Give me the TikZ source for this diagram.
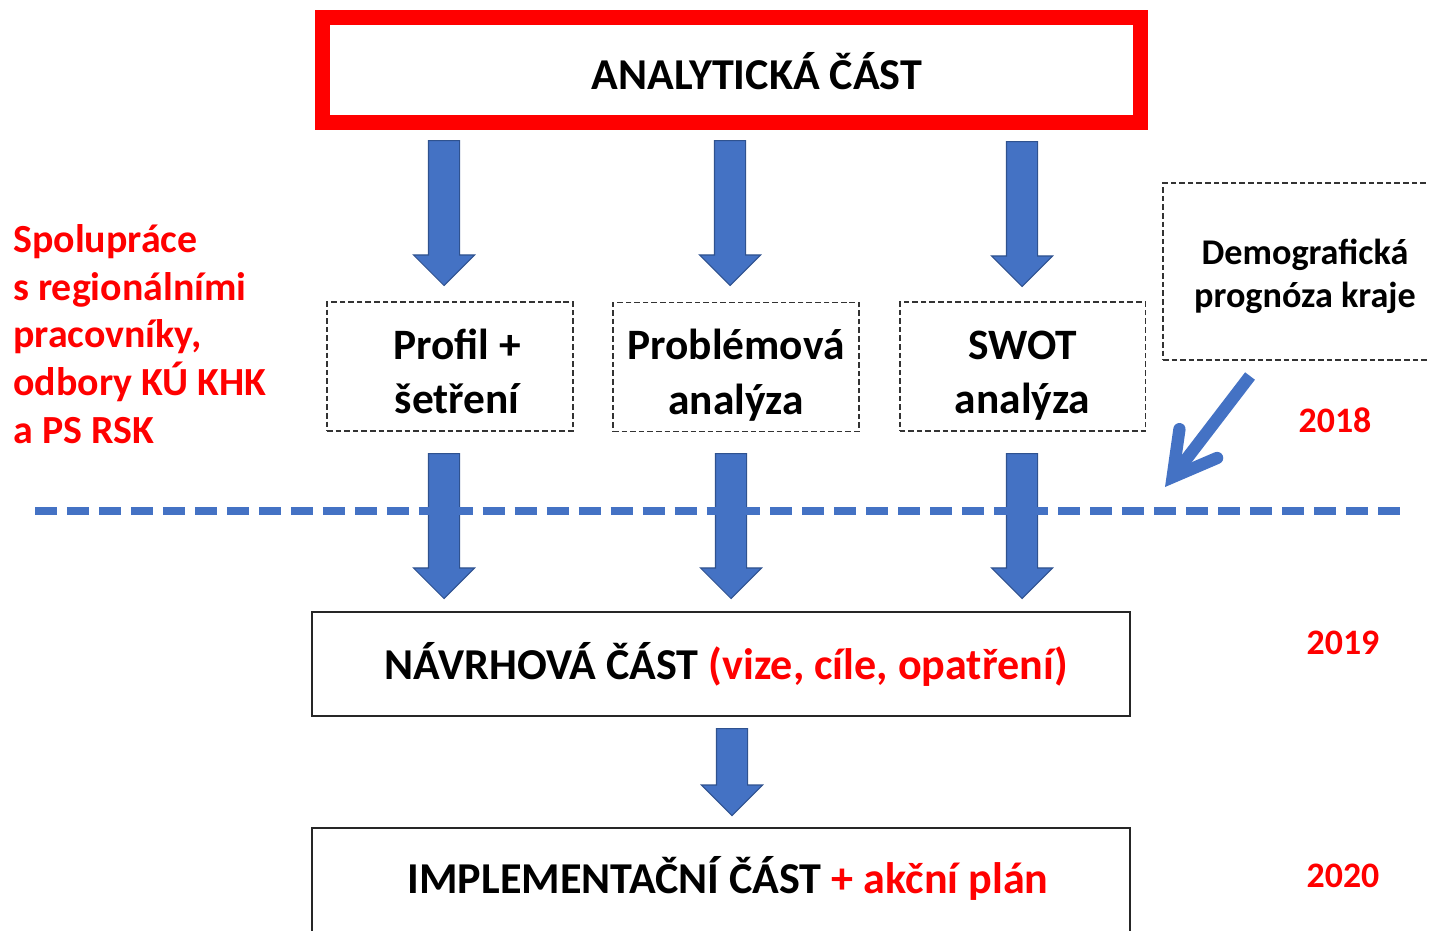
\documentclass[tikz,border=0pt]{standalone}
\usepackage{fontspec}
\setmainfont{Carlito}
\usetikzlibrary{arrows.meta,shapes.arrows}
\definecolor{arrowblue}{HTML}{4472C4}
\definecolor{arrowedge}{HTML}{2F528F}
\newcommand{\topline}[1]{\rule{0pt}{#1}}
\tikzset{
  redbox/.style = {draw=red, line width=0.3cm, inner sep=0pt,
    minimum width=16.36cm, minimum height=2.1cm},% analyticka cast
  plainbox/.style = {draw=black!85, line width=1.3pt, inner sep=0pt,
    minimum width=16.36cm, font=\bfseries\fontsize{25.1}{29}\selectfont},
  dashbox/.style = {draw=black!80, line width=1.1pt, dash pattern=on 3.2pt off 1.7pt,
    align=center, inner sep=0pt, minimum width=4.92cm, minimum height=2.58cm,
    font=\bfseries\fontsize{24.7}{31}\selectfont},
  demobox/.style = {dashbox, minimum width=5.68cm, minimum height=3.54cm,
    font=\bfseries\fontsize{20.6}{24.4}\selectfont},
  maintext/.style = {inner sep=0pt, font=\bfseries\fontsize{25.1}{29}\selectfont},
  redtext/.style = {text=red, align=left, inner sep=0pt,
    font=\bfseries\fontsize{22.7}{27.2}\selectfont},
  yeartext/.style = {text=red, inner sep=0pt,
    font=\bfseries\fontsize{20.4}{24}\selectfont},
  barrow/.style = {single arrow, fill=arrowblue, draw=arrowedge, line width=0.6pt,
    inner xsep=0pt, inner ysep=0.3cm, single arrow head extend=0.3cm,
    single arrow tip angle=90, minimum width=1.2cm, rotate=-90, anchor=tail},% blokova sipka
  timeline/.style = {draw=arrowblue, line width=4.5pt, dash pattern=on 12.5pt off 5.7pt},
  pointer/.style = {draw=arrowblue, line width=7pt,
    -{Straight Barb[length=24pt, width=27pt, line cap=round, line join=miter]}}
}

\begin{document}
\begin{tikzpicture}[x=0.02cm, y=-0.02cm]
\useasboundingbox (0,0) rectangle (1429,930);
% analyticka cast
\node [redbox] (analytic) at (731.5,70) {};
\node [maintext] (analytic-t) at (757,71) {ANALYTICKÁ ČÁST};
% podklady
\node [dashbox] (profil) at (450,366.5)
  {\topline{29pt}\hspace{8pt}Profil +\\\hspace{8pt}šetření\rule[-6pt]{0pt}{6pt}};
\node [dashbox] (problem) at (736,367)
  {\topline{29pt}Problémová\\analýza\rule[-6pt]{0pt}{6pt}};
\node [dashbox] (swot) at (1022.5,366.5)
  {\topline{29pt}SWOT\\analýza\rule[-6pt]{0pt}{6pt}};
\node [demobox] (demo) at (1305,271.5) {\topline{20pt}Demografická\\prognóza kraje};
% navrhova a implementacni cast
\node [plainbox, minimum height=2.08cm] (navrh) at (721,664)
  {\hspace{6pt}NÁVRHOVÁ ČÁST \textcolor{red}{(vize, cíle, opatření)}};
\node [plainbox, minimum height=2.2cm] (impl) at (721,883) {};
\node [maintext] (impl-t) at (728,878)
  {IMPLEMENTAČNÍ ČÁST \textcolor{red}{+ akční plán}};
% sipky
\node [barrow, minimum height=2.9cm] (a-profil) at (444,140) {};
\node [barrow, minimum height=2.9cm] (a-problem) at (730,140) {};
\node [barrow, minimum height=2.9cm] (a-swot) at (1022,141) {};
\node [barrow, minimum height=2.9cm] (b-profil) at (444,453) {};
\node [barrow, minimum height=2.9cm] (b-problem) at (731,453) {};
\node [barrow, minimum height=2.9cm] (b-swot) at (1022,453) {};
\node [barrow, minimum height=1.74cm] (c-navrh) at (732,728) {};
% casova hranice
\coordinate (line-w) at (35,511);
\coordinate (line-e) at (1403,511);
\draw [timeline] (line-w) -- (line-e);
\coordinate (demo-tail) at (1250,376);
\coordinate (demo-tip) at (1165,487);
\draw [pointer] (demo-tail) -- (demo-tip);
% popisky
\node [redtext, anchor=west] (coop) at (13,334)
  {Spolupráce\\s regionálními\\pracovníky,\\odbory KÚ KHK\\a PS RSK};
\node [yeartext] (y2018) at (1335,420) {2018};
\node [yeartext] (y2019) at (1343,643) {2019};
\node [yeartext] (y2020) at (1343,876) {2020};
\end{tikzpicture}
\end{document}
